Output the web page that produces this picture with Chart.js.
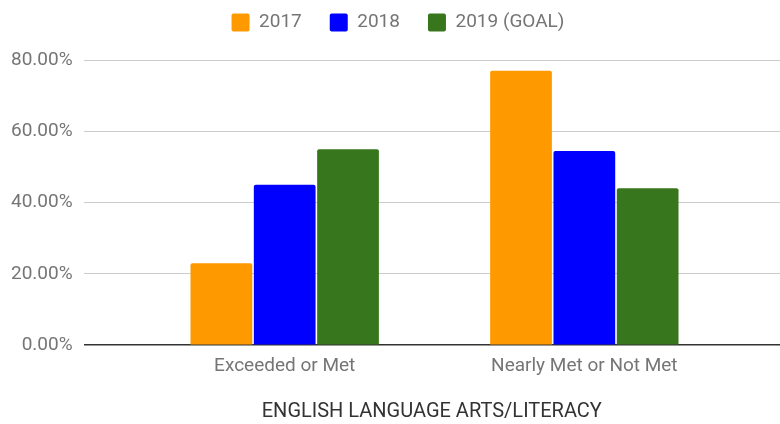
<!DOCTYPE html>
<html>
<head>
<meta charset="utf-8">
<script src="https://cdn.jsdelivr.net/npm/chart.js@4.4.0/dist/chart.umd.min.js"></script>
<style>
  html, body { margin: 0; padding: 0; background: #ffffff; }
  #wrap { width: 780px; height: 424px; }
</style>
</head>
<body>
<div id="wrap"><canvas id="elaChart" width="780" height="424"></canvas></div>
<script>
// Share of students per achievement band, in percent
const categories = ['Exceeded or Met', 'Nearly Met or Not Met'];
const seriesNames = ['2017', '2018', '2019 (GOAL)'];
const values2017 = [23.0, 77.0];
const values2018 = [45.0, 54.5];
const values2019 = [55.0, 44.0];
const yTicks = [0, 20, 40, 60, 80];
const axisTitle = 'ENGLISH LANGUAGE ARTS/LITERACY';

const colors = ['#ff9900', '#0000ff', '#38761d'];
const allValues = [values2017, values2018, values2019];

// bars sit on a linear x scale so the groups can be offset inside the plot
function toPoints(vals) {
    return vals.map((v, i) => ({ x: i, y: v }));
}

const datasets = allValues.map((vals, i) => ({
    label: seriesNames[i],
    data: toPoints(vals),
    backgroundColor: colors[i],
    borderWidth: 0,
    borderRadius: 2,
    borderSkipped: 'bottom',
    categoryPercentage: 0.634,
    barPercentage: 0.975
}));

// extra room under the legend and a small sideways nudge
const legendTweak = {
    id: 'legendTweak',
    beforeInit(chart) {
        const legend = chart.legend;
        const fit = legend.fit;
        legend.fit = function() {
            fit.call(this);
            this.height += 18;
        };
        const draw = legend.draw;
        legend.draw = function() {
            const ctx = chart.ctx;
            ctx.save();
            ctx.translate(8, 0);
            draw.call(this);
            ctx.restore();
        };
    }
};

Chart.defaults.font.family = 'Roboto, "Noto Sans", sans-serif';

new Chart(document.getElementById('elaChart'), {
    type: 'bar',
    data: { datasets: datasets },
    plugins: [legendTweak],
    options: {
        responsive: false,
        animation: false,
        layout: { padding: { left: 0, right: 0, top: -15, bottom: 0 } },
        plugins: {
            legend: {
                position: 'top',
                align: 'center',
                labels: {
                    color: '#757575',
                    font: { size: 19 },
                    boxWidth: 18,
                    boxHeight: 18,
                    padding: 28,
                    useBorderRadius: true,
                    borderRadius: 2
                }
            },
            tooltip: { enabled: false }
        },
        scales: {
            x: {
                type: 'linear',
                min: -0.671,
                max: 1.653,
                offset: false,
                grid: { display: false },
                border: { display: false },
                afterBuildTicks: axis => {
                    axis.ticks = categories.map((c, i) => ({ value: i }));
                },
                ticks: {
                    color: '#757575',
                    font: { size: 19 },
                    padding: 2,
                    maxRotation: 0,
                    autoSkip: false,
                    callback: v => categories[v]
                },
                title: {
                    display: true,
                    text: axisTitle,
                    color: '#333333',
                    font: { size: 20 },
                    padding: { top: 20, bottom: 0 }
                }
            },
            y: {
                min: 0,
                max: 80,
                afterBuildTicks: axis => {
                    axis.ticks = yTicks.map(v => ({ value: v }));
                },
                grid: {
                    drawTicks: false,
                    color: ctx => ctx.tick && ctx.tick.value === 0 ? '#333333' : '#cccccc',
                    lineWidth: ctx => ctx.tick && ctx.tick.value === 0 ? 1.5 : 1
                },
                border: { display: false },
                ticks: {
                    color: '#757575',
                    font: { size: 19 },
                    padding: 11,
                    callback: v => v.toFixed(2) + '%'
                }
            }
        }
    }
});
</script>
</body>
</html>
